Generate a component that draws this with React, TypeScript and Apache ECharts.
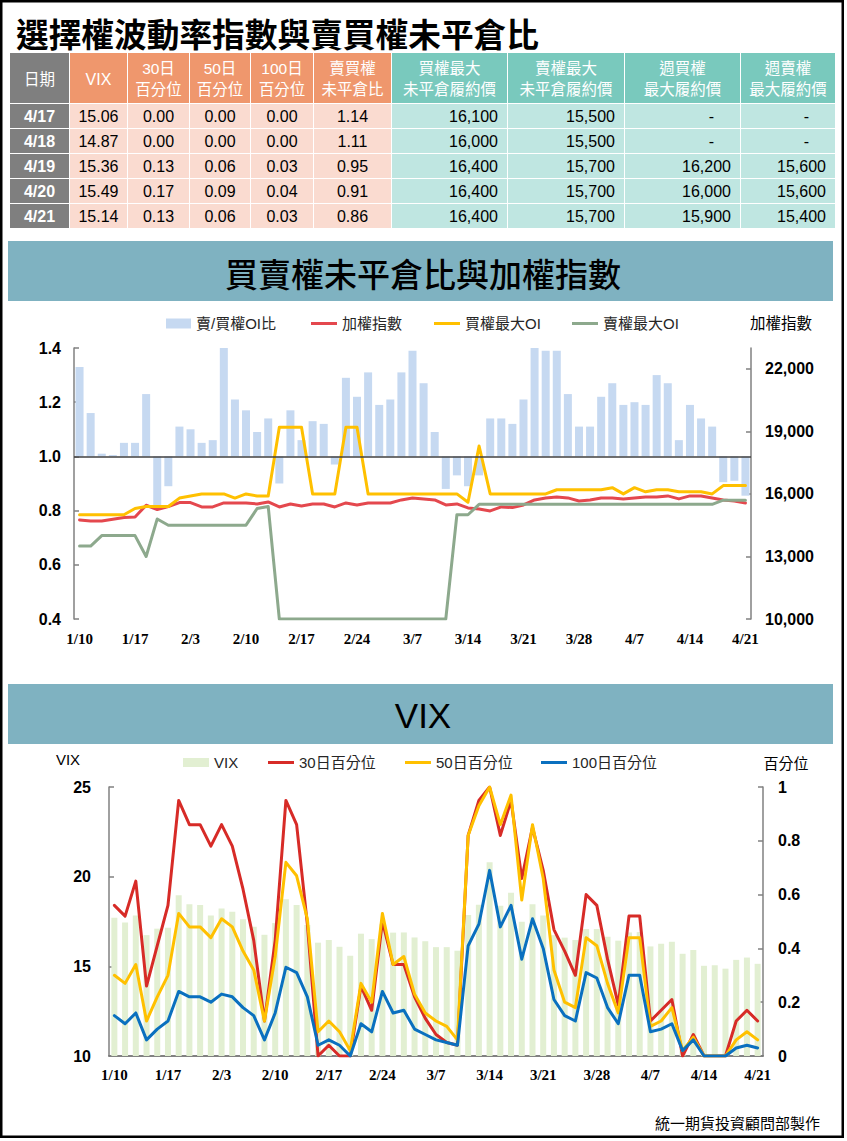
import React, { useEffect, useRef } from 'react';
import * as echarts from 'echarts';

// ---------------- DATA ----------------
const dates = ['1/10','1/11','1/12','1/13','1/16','1/17','1/30','1/31','2/1','2/2','2/3','2/6','2/7','2/8','2/9','2/10','2/13','2/14','2/15','2/16','2/17','2/20','2/21','2/22','2/23','2/24','3/1','3/2','3/3','3/6','3/7','3/8','3/9','3/10','3/13','3/14','3/15','3/16','3/17','3/20','3/21','3/22','3/23','3/24','3/27','3/28','3/29','3/30','3/31','4/6','4/7','4/10','4/11','4/12','4/13','4/14','4/17','4/18','4/19','4/20','4/21'];

// chart 1
const oiRatio = [1.33,1.16,1.01,1.005,1.05,1.05,1.23,0.82,0.89,1.11,
  1.10,1.05,1.06,1.40,1.21,1.17,1.09,1.14,0.90,1.17,
  1.06,1.13,1.12,0.97,1.29,1.22,1.31,1.19,1.21,1.31,
  1.39,1.27,1.09,0.88,0.93,0.89,0.93,1.14,1.14,1.12,
  1.21,1.40,1.39,1.39,1.23,1.11,1.11,1.22,1.27,1.19,
  1.20,1.19,1.30,1.27,1.06,1.19,1.14,1.11,0.905,0.91,0.855];
const taiex = [14752,14704,14704,14784,14864,14896,15456,15248,15392,15584,
  15584,15376,15376,15568,15568,15568,15520,15616,15376,15520,
  15424,15520,15520,15376,15568,15472,15568,15568,15568,15712,
  15808,15760,15712,15472,15520,15328,15280,15184,15376,15344,
  15472,15712,15808,15856,15808,15664,15712,15808,15808,15760,
  15808,15856,15856,15904,15760,15904,15904,15808,15712,15664,15568];
const callMaxOI = [15000,15000,15000,15000,15000,15300,15400,15400,15400,15800,
  15900,16000,16000,16000,15800,16000,15900,15900,19200,19200,
  19200,16000,16000,16000,19200,19200,16000,16000,16000,16000,
  16000,16000,16000,16000,16000,15600,18300,16000,16000,16000,
  16000,16000,16000,16200,16200,16200,16200,16200,16300,16000,
  16300,16100,16200,16200,16100,16100,16100,16000,16400,16400,16400];
const putMaxOI = [13500,13500,14000,14000,14000,14000,13000,14800,14500,14500,
  14500,14500,14500,14500,14500,14500,15300,15400,10000,10000,
  10000,10000,10000,10000,10000,10000,10000,10000,10000,10000,
  10000,10000,10000,10000,15000,15000,15500,15500,15500,15500,
  15500,15500,15500,15500,15500,15500,15500,15500,15500,15500,
  15500,15500,15500,15500,15500,15500,15500,15500,15700,15700,15700];

// chart 2
const vix = [17.71,17.45,17.83,16.74,17.10,17.15,18.96,18.46,18.42,17.84,
  18.22,18.05,17.62,17.21,16.76,17.42,18.74,18.42,17.3,16.32,
  16.47,16.09,15.59,16.82,16.52,17.34,16.88,16.89,16.61,16.40,
  16.07,16.07,15.87,17.86,18.44,20.81,18.38,19.11,17.49,18.46,
  17.83,16.74,16.60,16.47,17.08,17.08,16.65,16.43,16.89,16.91,
  16.11,16.26,16.37,15.70,15.91,15.03,15.06,14.87,15.36,15.49,15.14];
const pct30 = [0.56,0.52,0.65,0.26,0.41,0.56,0.95,0.86,0.86,0.78,
  0.86,0.78,0.62,0.43,0.13,0.43,0.95,0.86,0.49,0,
  0.04,0,0,0.26,0.17,0.50,0.34,0.34,0.22,0.14,
  0.08,0.05,0.04,0.82,0.95,1,0.82,0.95,0.66,0.85,
  0.69,0.47,0.39,0.30,0.60,0.56,0.36,0.19,0.52,0.52,
  0.13,0.17,0.21,0,0.08,0,0,0,0.13,0.17,0.13];
const pct50 = [0.30,0.27,0.34,0.13,0.22,0.30,0.53,0.48,0.48,0.44,
  0.51,0.48,0.39,0.32,0.13,0.37,0.72,0.67,0.51,0.09,
  0.13,0.09,0.02,0.27,0.20,0.53,0.34,0.37,0.23,0.16,
  0.13,0.11,0.06,0.82,0.93,1,0.86,0.97,0.58,0.86,
  0.66,0.32,0.20,0.18,0.44,0.41,0.27,0.16,0.44,0.44,
  0.11,0.13,0.18,0.02,0.07,0,0,0,0.06,0.09,0.06];
const pct100 = [0.15,0.12,0.16,0.06,0.10,0.13,0.24,0.22,0.22,0.20,
  0.23,0.22,0.18,0.15,0.06,0.16,0.33,0.31,0.22,0.04,
  0.06,0.04,0,0.12,0.09,0.24,0.16,0.17,0.10,0.08,
  0.06,0.05,0.04,0.41,0.49,0.69,0.48,0.56,0.36,0.51,
  0.40,0.21,0.15,0.13,0.31,0.29,0.18,0.12,0.30,0.30,
  0.09,0.10,0.12,0.02,0.06,0,0,0,0.03,0.04,0.03];

// table
const tableHeaders = ['日期','VIX','30日\n百分位','50日\n百分位','100日\n百分位','賣買權\n未平倉比','買權最大\n未平倉履約價','賣權最大\n未平倉履約價','週買權\n最大履約價','週賣權\n最大履約價'];
const tableDates = ['4/17','4/18','4/19','4/20','4/21'];
const tableVix = [15.06,14.87,15.36,15.49,15.14];
const tablePct30 = [0,0,0.13,0.17,0.13];
const tablePct50 = [0,0,0.06,0.09,0.06];
const tablePct100 = [0,0,0.03,0.04,0.03];
const tablePcRatio = [1.14,1.11,0.95,0.91,0.86];
const tableCallStrike = [16100,16000,16400,16400,16400];
const tablePutStrike = [15500,15500,15700,15700,15700];
const tableWeeklyCall = [null,null,16200,16000,15900];
const tableWeeklyPut = [null,null,15600,15600,15400];

// ---------------- STYLE ----------------
const FONT_MIX = "'Liberation Sans', 'Noto Sans CJK TC', sans-serif";
const FONT_CJK = "'Noto Sans CJK TC', sans-serif";
const FONT_SERIF = "'Liberation Serif', serif";

const COL_EDGES: [number, number][] = [[10,69],[70,127],[128,189],[190,250],[251,313],[314,391],[392,507],[508,624],[625,740],[741,835]];
const ROW_TOPS = [104,129,154,179,204];

function txt(text: string, x: number, y: number, o: any = {}) {
  return {
    type: 'text', silent: true, z: 10,
    style: {
      text, x, y,
      align: o.align || 'center', verticalAlign: 'middle',
      fill: o.fill || '#000', fontSize: o.size || 16,
      fontFamily: o.family || FONT_MIX, fontWeight: o.weight || 'normal',
      lineHeight: o.lineHeight,
    },
  };
}
function rect(x: number, y: number, w: number, h: number, fill: string) {
  return { type: 'rect', silent: true, z: 5, shape: { x, y, width: w, height: h }, style: { fill } };
}

function buildGraphic() {
  const g: any[] = [];
  g.push(txt('選擇權波動率指數與賣買權未平倉比', 16, 32, { align: 'left', size: 32.7, weight: 'bold', family: FONT_CJK }));
  const fmt2 = (v: number) => v.toFixed(2);
  const fmtK = (v: number | null) => (v == null ? '-' : v.toLocaleString('en-US'));
  const colsData: string[][] = [
    tableDates,
    tableVix.map(fmt2), tablePct30.map(fmt2), tablePct50.map(fmt2), tablePct100.map(fmt2), tablePcRatio.map(fmt2),
    tableCallStrike.map(fmtK), tablePutStrike.map(fmtK), tableWeeklyCall.map(fmtK), tableWeeklyPut.map(fmtK),
  ];
  COL_EDGES.forEach(([x0, x1], c) => {
    const hdr = c === 0 ? '#7F7F7F' : c <= 5 ? '#EF976D' : '#79C9BD';
    const cell = c === 0 ? '#7F7F7F' : c <= 5 ? '#FADBD0' : '#BFE6E1';
    g.push(rect(x0, 53, x1 - x0, 50, hdr));
    g.push(txt(tableHeaders[c], (x0 + x1) / 2, 79, { fill: '#fff', size: c === 1 ? 16 : 15.5, lineHeight: 21 }));
    ROW_TOPS.forEach((top, r) => {
      g.push(rect(x0, top, x1 - x0, 24, cell));
      const s = colsData[c][r];
      const y = top + 12.5;
      if (c === 0) g.push(txt(s, (x0 + x1) / 2, y, { fill: '#fff', weight: 'bold' }));
      else if (c <= 5) g.push(txt(s, (x0 + x1) / 2, y));
      else if (s === '-') g.push(txt(s, x1 - 26, y, { align: 'right' }));
      else g.push(txt(s, x1 - 9, y, { align: 'right' }));
    });
  });
  // banners
  g.push(rect(8, 241, 825, 60, '#7FB2C1'));
  g.push(txt('買賣權未平倉比與加權指數', 423, 273, { size: 33, family: FONT_CJK, weight: 500 }));
  g.push(rect(8, 684, 825, 60, '#7FB2C1'));
  g.push(txt('VIX', 423, 715, { size: 35, family: FONT_MIX }));
  // axis names
  g.push(txt('加權指數', 781, 322, { size: 15.5, family: FONT_CJK }));
  g.push(txt('VIX', 68, 759, { size: 15, family: FONT_MIX }));
  g.push(txt('百分位', 786, 762, { size: 15, family: FONT_CJK }));
  // footer
  g.push(txt('統一期貨投資顧問部製作', 820, 1122, { align: 'right', size: 15, family: FONT_CJK }));
  // frame
  g.push({ type: 'rect', silent: true, z: 100, shape: { x: 1.25, y: 1.25, width: 841.5, height: 1135.5 }, style: { fill: 'none', stroke: '#000', lineWidth: 2.5 } });
  return g;
}

const yLabel = { fontFamily: FONT_MIX, fontWeight: 'bold', fontSize: 16, color: '#000' };
const xLabel = { fontFamily: FONT_SERIF, fontWeight: 'bold', fontSize: 15, color: '#000', interval: 4 };
const axisGray = { show: true, lineStyle: { color: '#808080', width: 1.5 } };
const tickIn = { show: true, inside: true, length: 5, lineStyle: { color: '#808080', width: 1.5 } };
const legendText = { fontSize: 15, fontFamily: FONT_MIX, color: '#262626' };

function lineSeries(name: string, data: number[], color: string, xi: number, yi: number) {
  return {
    name, type: 'line', xAxisIndex: xi, yAxisIndex: yi, data,
    symbol: 'none', showSymbol: false,
    lineStyle: { color, width: 3, cap: 'round', join: 'round' },
    itemStyle: { color },
  };
}
function legend(name: string, left: number, top: number, w: number, h: number) {
  return { data: [name], left, top, padding: 0, itemWidth: w, itemHeight: h, icon: 'rect', selectedMode: false, textStyle: legendText };
}

const option: any = {
  animation: false,
  backgroundColor: '#fff',
  textStyle: { fontFamily: FONT_MIX },
  graphic: buildGraphic(),
  legend: [
    legend('賣/買權OI比', 166, 316, 25, 10),
    legend('加權指數', 311, 316, 26, 3),
    legend('買權最大OI', 434, 316, 26, 3),
    legend('賣權最大OI', 572, 316, 26, 3),
    legend('VIX', 183, 755, 26, 9),
    legend('30日百分位', 268, 755, 26, 3),
    legend('50日百分位', 405, 755, 26, 3),
    legend('100日百分位', 541, 755, 26, 3),
  ],
  grid: [
    { left: 74, top: 348, width: 677, height: 271 },
    { left: 109, top: 787, width: 654, height: 269 },
  ],
  xAxis: [
    { type: 'category', gridIndex: 0, data: dates, boundaryGap: true, axisLine: { show: false }, axisTick: { show: false }, splitLine: { show: false }, axisLabel: { ...xLabel, margin: 12 } },
    { type: 'category', gridIndex: 1, data: dates, boundaryGap: true, axisLine: { show: true, lineStyle: { color: '#595959', width: 1.5 } }, axisTick: { show: false }, splitLine: { show: false }, axisLabel: { ...xLabel, margin: 11 } },
  ],
  yAxis: [
    { type: 'value', gridIndex: 0, position: 'left', min: 0.4, max: 1.4, interval: 0.2, axisLine: axisGray, axisTick: tickIn, splitLine: { show: false }, axisLabel: { ...yLabel, margin: 13, formatter: (v: number) => v.toFixed(1) } },
    { type: 'value', gridIndex: 0, position: 'right', min: 10000, max: 23000, interval: 3000, axisLine: axisGray, axisTick: tickIn, splitLine: { show: false }, axisLabel: { ...yLabel, margin: 14, showMaxLabel: false, formatter: (v: number) => (v > 22500 ? '' : v.toLocaleString('en-US')) } },
    { type: 'value', gridIndex: 0, show: false, min: -0.6, max: 0.4, splitLine: { show: false } },
    { type: 'value', gridIndex: 1, position: 'left', min: 10, max: 25, interval: 5, axisLine: axisGray, axisTick: tickIn, splitLine: { show: false }, axisLabel: { ...yLabel, margin: 18 } },
    { type: 'value', gridIndex: 1, position: 'right', min: 0, max: 1, interval: 0.2, axisLine: axisGray, axisTick: tickIn, splitLine: { show: false }, axisLabel: { ...yLabel, margin: 15, formatter: (v: number) => (v === 0 || v === 1 ? String(v) : v.toFixed(1)) } },
  ],
  series: [
    {
      name: '賣/買權OI比', type: 'bar', xAxisIndex: 0, yAxisIndex: 2,
      data: oiRatio.map((v) => +(v - 1).toFixed(4)),
      barWidth: 8, itemStyle: { color: '#C6D9F1' },
      markLine: { silent: true, symbol: ['none', 'none'], label: { show: false }, lineStyle: { color: '#404040', width: 1.5, type: 'solid' }, data: [{ yAxis: 0 }] },
    },
    lineSeries('加權指數', taiex, '#E4484E', 0, 1),
    lineSeries('買權最大OI', callMaxOI, '#FFC000', 0, 1),
    lineSeries('賣權最大OI', putMaxOI, '#8DA98D', 0, 1),
    { name: 'VIX', type: 'bar', xAxisIndex: 1, yAxisIndex: 3, data: vix, barWidth: 6, itemStyle: { color: '#E2EFD2' } },
    lineSeries('30日百分位', pct30, '#D72B27', 1, 4),
    lineSeries('50日百分位', pct50, '#FFC000', 1, 4),
    lineSeries('100日百分位', pct100, '#0A70BF', 1, 4),
  ],
};

export default function App() {
  const ref = useRef<HTMLDivElement>(null);
  useEffect(() => {
    if (!ref.current) return;
    const chart = echarts.init(ref.current, null, { renderer: 'svg' });
    chart.setOption(option);
    return () => chart.dispose();
  }, []);
  return <div ref={ref} style={{ position: 'absolute', left: 0, top: 0, width: 847, height: 1141, background: '#fff' }} />;
}
